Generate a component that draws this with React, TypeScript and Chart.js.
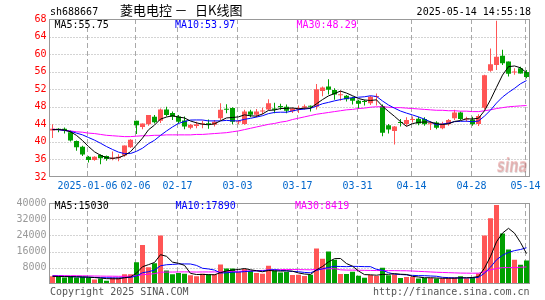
import { useEffect, useRef } from 'react';
import { Chart, registerables } from 'chart.js';

Chart.register(...registerables);

// ---------- data ----------
const DATES = [
  '2025-01-09','2025-01-10','2025-01-13','2025-01-14','2025-01-15','2025-01-16','2025-01-17','2025-01-20','2025-01-21','2025-01-22',
  '2025-01-23','2025-01-24','2025-01-27','2025-02-05','2025-02-06','2025-02-07','2025-02-10','2025-02-11','2025-02-12','2025-02-13',
  '2025-02-14','2025-02-17','2025-02-18','2025-02-19','2025-02-20','2025-02-21','2025-02-24','2025-02-25','2025-02-26','2025-02-27',
  '2025-02-28','2025-03-03','2025-03-04','2025-03-05','2025-03-06','2025-03-07','2025-03-10','2025-03-11','2025-03-12','2025-03-13',
  '2025-03-14','2025-03-17','2025-03-18','2025-03-19','2025-03-20','2025-03-21','2025-03-24','2025-03-25','2025-03-26','2025-03-27',
  '2025-03-28','2025-03-31','2025-04-01','2025-04-02','2025-04-03','2025-04-07','2025-04-08','2025-04-09','2025-04-10','2025-04-11',
  '2025-04-14','2025-04-15','2025-04-16','2025-04-17','2025-04-18','2025-04-21','2025-04-22','2025-04-23','2025-04-24','2025-04-25',
  '2025-04-28','2025-04-29','2025-04-30','2025-05-06','2025-05-07','2025-05-08','2025-05-09','2025-05-12','2025-05-13','2025-05-14',
];

const OPEN = [
  42.6,43.0,43.0,42.2,40.2,38.9,36.6,35.9,37.0,36.8,
  36.1,36.3,36.9,38.8,44.8,43.4,44.0,45.7,44.8,47.4,
  46.6,45.8,44.9,43.2,43.6,44.0,44.2,43.9,45.4,47.5,
  47.7,44.5,44.1,46.9,46.2,46.9,47.4,47.6,48.2,48.0,
  47.0,47.4,47.8,48.2,48.0,51.6,52.6,51.8,50.6,50.5,
  50.0,49.4,49.3,48.8,50.2,48.2,43.8,42.5,44.5,44.1,
  45.0,45.3,45.2,44.0,44.4,43.1,44.0,45.4,46.7,45.1,
  45.1,44.1,47.8,56.2,57.5,59.6,58.3,55.8,56.8,55.9,
];
const HIGH = [
  44.0,43.1,43.3,42.6,40.3,39.1,36.8,36.7,37.2,36.9,
  37.8,37.2,39.2,40.6,44.8,44.2,46.1,46.1,47.6,48.0,
  46.9,46.1,45.8,44.1,44.6,44.8,45.1,45.0,48.8,48.6,
  47.9,45.0,47.3,47.3,47.5,47.8,49.7,48.9,48.7,48.5,
  47.8,48.3,48.5,48.3,53.2,52.6,54.3,52.2,51.7,50.7,
  50.3,49.6,49.6,50.5,51.0,48.5,44.1,43.6,45.2,45.6,
  45.8,45.7,45.6,44.7,44.7,44.6,45.2,47.3,46.9,45.7,
  45.7,46.3,55.3,61.3,67.6,61.0,58.3,56.8,57.1,56.4,
];
const LOW = [
  40.9,42.2,41.9,40.1,38.0,36.8,35.3,35.7,34.9,35.7,
  35.8,35.6,36.6,38.6,41.8,42.9,43.7,44.2,44.3,45.8,
  45.0,44.2,42.9,42.9,43.1,43.1,43.0,43.5,45.0,46.5,
  44.0,44.0,43.9,45.6,45.6,46.3,47.2,46.5,47.3,46.5,
  46.6,46.6,47.3,46.9,47.4,50.4,50.8,49.6,49.4,49.2,
  48.5,47.5,48.3,48.4,48.3,41.3,41.9,39.4,43.5,43.6,
  44.4,43.8,43.7,42.7,42.9,42.9,43.7,45.0,45.0,44.6,
  43.7,43.6,47.4,56.0,56.4,57.5,54.9,55.3,55.6,54.5,
];
const CLOSE = [
  43.0,42.7,42.6,40.3,38.8,37.1,35.9,36.6,36.3,36.1,
  36.4,36.6,39.2,40.5,43.8,44.2,46.1,44.5,47.4,46.1,
  45.7,44.6,43.5,43.9,44.0,44.1,44.0,44.6,47.3,47.3,
  44.6,44.7,46.9,46.2,46.9,47.1,48.8,47.3,47.9,47.1,
  47.6,47.7,48.1,48.0,52.0,52.4,51.9,50.8,50.8,49.7,
  49.4,48.7,49.1,50.3,50.4,42.1,42.8,43.5,44.3,45.0,
  45.2,44.2,44.0,44.2,43.2,44.2,45.0,46.7,45.2,45.2,
  44.0,45.9,55.2,57.7,59.4,57.9,55.5,56.0,55.6,54.8,
];

const MA5 = [
  42.8,42.8,42.7,42.3,41.48,40.30,38.94,37.74,36.94,36.40,
  36.26,36.40,36.92,37.76,39.30,40.86,42.76,43.82,45.20,45.66,
  45.96,45.66,45.46,44.76,44.34,44.02,43.90,44.12,44.80,45.46,
  45.56,45.70,46.16,45.94,45.86,46.36,47.18,47.26,47.60,47.64,
  47.74,47.52,47.68,47.70,48.68,49.64,50.48,51.02,51.58,51.12,
  50.52,49.88,49.54,49.44,49.58,48.12,46.94,45.82,44.62,43.54,
  44.16,44.44,44.54,44.52,44.16,43.96,44.12,44.66,44.86,45.26,
  45.22,45.40,47.10,49.60,52.44,55.22,57.14,57.30,56.88,55.75,
];
const MA10 = [
  42.8,42.8,42.6,42.4,42.0,41.6,41.0,40.4,39.7,38.94,
  38.28,37.67,37.33,37.35,37.85,38.56,39.58,40.37,41.48,42.48,
  43.41,44.21,44.64,44.98,45.00,44.99,44.78,44.79,44.78,44.90,
  44.79,44.80,45.14,45.37,45.66,45.96,46.44,46.71,46.77,46.75,
  47.05,47.35,47.47,47.65,48.16,48.69,49.00,49.35,49.64,49.90,
  50.08,50.18,50.28,50.51,50.35,49.32,48.41,47.68,47.03,46.56,
  46.14,45.69,45.18,44.57,43.85,44.06,44.28,44.60,44.69,44.71,
  44.59,44.76,45.88,47.23,48.85,50.22,51.27,52.20,53.24,53.97,
];
const MA30 = [
  42.9,42.8,42.6,42.5,42.3,42.2,42.0,41.9,41.7,41.5,
  41.4,41.3,41.2,41.2,41.3,41.4,41.4,41.5,41.5,41.6,
  41.6,41.6,41.6,41.6,41.7,41.7,41.8,41.9,42.0,42.1,
  42.3,42.5,42.8,43.1,43.4,43.7,44.0,44.2,44.5,44.7,
  45.1,45.4,45.7,46.0,46.3,46.5,46.7,46.9,47.1,47.3,
  47.4,47.6,47.7,47.9,48.0,48.0,47.9,47.8,47.8,47.7,
  47.6,47.5,47.4,47.3,47.2,47.2,47.1,47.1,47.0,47.0,
  46.9,46.9,47.1,47.3,47.6,47.8,48.0,48.1,48.2,48.29,
];

const VOLUME = [
  3800,3800,3200,3800,3200,3500,3200,2200,2700,1600,
  3200,3200,4800,4800,10700,19200,8300,10200,24000,6700,
  4800,5400,5100,4300,3800,5100,4800,4800,9600,7700,
  7700,5900,7400,6400,5400,5100,9000,6700,5700,5900,
  4400,4600,4000,4600,17500,12500,16000,12000,5000,5000,
  6000,4100,3100,4500,4000,8000,4300,4800,3000,3400,
  3400,2700,3000,3000,2700,2700,2800,3200,3800,2800,
  3500,5200,24000,32500,39000,25000,17000,12000,9500,11650,
];
const VOL_MA5 = [
  3800,3700,3650,3600,3560,3500,3380,3180,2960,2640,
  2580,2580,3100,3520,5340,8540,9560,10640,14480,13680,
  10800,10220,9200,5260,4680,4740,4620,4560,5620,6400,
  6920,7140,7660,7020,6560,6040,6660,6520,6380,6480,
  6340,5460,4920,4700,7020,8640,10920,12520,12600,10100,
  8800,6420,4640,4540,4340,4740,4780,5120,4820,4700,
  3780,3460,3100,3100,2960,2820,2840,2880,3040,3060,
  3220,3700,7860,13600,20840,25140,27500,25100,20500,15030,
];
const VOL_MA10 = [
  3900,3850,3750,3650,3550,3450,3350,3250,3150,3100,
  3040,2980,3140,3240,3990,5560,6070,6870,9000,9510,
  9670,9890,9920,9870,9180,7770,7420,6880,5440,5540,
  5830,5880,6110,6320,6480,6480,6900,7090,6700,6520,
  6190,6060,5720,5540,6750,7490,8190,8720,8650,8560,
  8720,8670,8580,8570,7220,6770,5600,4880,4680,4520,
  4260,4120,4110,3960,3830,3300,3150,2990,3070,3010,
  3020,3270,5370,8320,11950,14180,15600,16480,17050,17890,
];
const VOL_MA30 = [
  4200,4200,4150,4100,4100,4050,4000,3950,3900,3850,
  3850,3800,3800,3850,4100,4600,4800,5100,5800,5900,
  5900,5950,6000,5950,5900,5950,5950,5950,6000,6050,
  6150,6250,6400,6500,6600,6700,6900,7000,7100,7190,
  7150,7100,7050,7000,7200,7400,7500,7600,7000,6870,
  6850,6800,6750,6700,6650,6650,6600,6600,6550,6530,
  6400,6250,6100,5950,5800,5700,5600,5500,5400,5360,
  5330,5350,6020,6950,7670,8080,8120,8120,8270,8419,
];

const PRICE_MIN = 32;
const PRICE_MAX = 68;
const PRICE_STEP = 4;
const VOL_MAX = 40000;
const VOL_STEP = 8000;

const X_TICK_DATES = ['2025-01-17','2025-02-06','2025-02-17','2025-03-03','2025-03-17','2025-03-31','2025-04-14','2025-04-28','2025-05-14'];
const X_TICK_LABELS = ['2025-01-06','02-06','02-17','03-03','03-17','03-31','04-14','04-28','05-14'];

const CODE = 'sh688667';
const STAMP = '2025-05-14 14:55:18';

// ---------- styles ----------
const RED = '#ff5555';
const GREEN = '#00a000';
const MONO = '"DejaVu Sans Mono", monospace';
const GRID = '#a8a8a8';
const FRAME = '#999999';

const isUp = CLOSE.map((c, i) => c >= OPEN[i]);
const candleColors = isUp.map((u) => (u ? RED : GREEN));

const sinaPlugin = {
  id: 'sinaFrame',
  beforeDatasetsDraw(chart: any) {
    const { ctx, chartArea: a, scales } = chart;
    const xs = scales.x;
    const ys = scales.y;
    ctx.save();
    ctx.lineWidth = 1;
    ctx.strokeStyle = GRID;
    ctx.setLineDash([1, 2]);
    ys.ticks.forEach((t: any) => {
      if (t.value <= ys.min || t.value >= ys.max) return;
      const py = Math.round(ys.getPixelForValue(t.value)) + 0.5;
      ctx.beginPath();
      ctx.moveTo(a.left, py);
      ctx.lineTo(a.right, py);
      ctx.stroke();
    });
    ctx.setLineDash([5, 3]);
    X_TICK_DATES.forEach((d) => {
      const px = Math.round(xs.getPixelForValue(DATES.indexOf(d)) - 1.5) + 0.5;
      ctx.beginPath();
      ctx.moveTo(px, a.top);
      ctx.lineTo(px, a.bottom);
      ctx.stroke();
    });
    ctx.restore();
  },
  afterDatasetsDraw(chart: any, _args: any, opts: any) {
    const { ctx, chartArea: a, scales } = chart;
    ctx.save();
    ctx.setLineDash([]);
    ctx.lineWidth = 1;
    ctx.strokeStyle = FRAME;
    const l = Math.floor(a.left) + 0.5;
    const t = Math.floor(a.top) + 0.5;
    const r = Math.floor(a.right) + 0.5;
    const b = Math.floor(a.bottom) - 0.5;
    ctx.strokeRect(l, t, r - l, b - t);
    if (opts && opts.dateLabels) {
      const xs = scales.x;
      ctx.font = '10px ' + MONO;
      ctx.fillStyle = '#0066cc';
      ctx.textAlign = 'center';
      ctx.textBaseline = 'middle';
      X_TICK_DATES.forEach((d, k) => {
        const px = Math.round(xs.getPixelForValue(DATES.indexOf(d)) - 1.5) + 0.5;
        ctx.fillText(X_TICK_LABELS[k], px, a.bottom + 9.5);
      });
    }
    ctx.restore();
  },
};

function lineDs(label: string, data: number[], color: string) {
  return {
    type: 'line' as const,
    label,
    data,
    borderColor: color,
    backgroundColor: color,
    borderWidth: 1,
    pointRadius: 0,
    tension: 0,
    order: 0,
  };
}

function yScale(min: number, max: number, step: number, color: string, hideZero: boolean) {
  return {
    type: 'linear' as const,
    position: 'left' as const,
    min,
    max,
    ticks: {
      stepSize: step,
      autoSkip: false,
      color,
      padding: 3,
      font: { family: MONO, size: 10, lineHeight: 1 },
      callback: (v: any) => (hideZero && v === 0 ? '' : String(v)),
    },
    grid: { display: false, drawTicks: false },
    border: { display: false },
    afterFit: (s: any) => {
      s.width = 49.5;
    },
  };
}

export default function App() {
  const priceRef = useRef<HTMLCanvasElement>(null);
  const volRef = useRef<HTMLCanvasElement>(null);

  useEffect(() => {
    const price = new Chart(priceRef.current as HTMLCanvasElement, {
      type: 'bar',
      data: {
        labels: DATES,
        datasets: [
          lineDs('MA5', MA5, '#000000'),
          lineDs('MA10', MA10, '#0000ff'),
          lineDs('MA30', MA30, '#ff00ff'),
          {
            type: 'bar',
            label: 'wick',
            data: LOW.map((l, i) => [l, HIGH[i]]),
            backgroundColor: candleColors,
            barThickness: 1,
            grouped: false,
            inflateAmount: 0,
            minBarLength: 1,
            order: 2,
          } as any,
          {
            type: 'bar',
            label: 'body',
            data: OPEN.map((o, i) => [o, CLOSE[i]]),
            backgroundColor: candleColors,
            barThickness: 5,
            grouped: false,
            inflateAmount: 0,
            minBarLength: 1,
            order: 1,
          } as any,
        ],
      },
      options: {
        responsive: false,
        animation: false,
        devicePixelRatio: 1,
        events: [],
        layout: { padding: { top: 19, bottom: 18, right: 15.5, left: 0 } },
        plugins: { legend: { display: false }, tooltip: { enabled: false }, sinaFrame: { dateLabels: true } } as any,
        scales: {
          x: { type: 'category', offset: true, display: false, grid: { display: false } },
          y: yScale(PRICE_MIN, PRICE_MAX, PRICE_STEP, '#ff0000', false),
        },
      },
      plugins: [sinaPlugin],
    });

    const volume = new Chart(volRef.current as HTMLCanvasElement, {
      type: 'bar',
      data: {
        labels: DATES,
        datasets: [
          lineDs('MA5', VOL_MA5, '#000000'),
          lineDs('MA10', VOL_MA10, '#0000ff'),
          lineDs('MA30', VOL_MA30, '#ff00ff'),
          {
            type: 'bar',
            label: 'volume',
            data: VOLUME,
            backgroundColor: candleColors,
            barThickness: 5,
            grouped: false,
            inflateAmount: 0,
            order: 1,
          } as any,
        ],
      },
      options: {
        responsive: false,
        animation: false,
        devicePixelRatio: 1,
        events: [],
        layout: { padding: { top: 6, bottom: 16, right: 15.5, left: 0 } },
        plugins: { legend: { display: false }, tooltip: { enabled: false }, sinaFrame: { dateLabels: false } } as any,
        scales: {
          x: { type: 'category', offset: true, display: false, grid: { display: false } },
          y: yScale(0, VOL_MAX, VOL_STEP, '#999999', true),
        },
      },
      plugins: [sinaPlugin],
    });

    return () => {
      price.destroy();
      volume.destroy();
    };
  }, []);

  const mono = (left: number, top: number, color: string, text: string, right?: number) => (
    <span
      style={{
        position: 'absolute',
        left: right === undefined ? left : undefined,
        right: right,
        top,
        color,
        fontFamily: MONO,
        fontSize: 10,
        lineHeight: '10px',
        whiteSpace: 'pre',
      }}
    >
      {text}
    </span>
  );
  const cjk = (left: number, text: string) => (
    <span
      style={{
        position: 'absolute',
        left,
        top: 2.6,
        color: '#000',
        fontFamily: '"Noto Sans CJK SC", sans-serif',
        fontSize: 13,
        lineHeight: '13px',
        whiteSpace: 'pre',
      }}
    >
      {text}
    </span>
  );
  const last = DATES.length - 1;

  return (
    <div
      style={{
        position: 'absolute',
        left: 0,
        top: 0,
        width: 545,
        height: 300,
        background: '#ffffff',
        overflow: 'hidden',
      }}
    >
      <canvas ref={priceRef} width={545} height={195} style={{ position: 'absolute', left: 0, top: 0, width: 545, height: 195 }} />
      <canvas ref={volRef} width={545} height={105} style={{ position: 'absolute', left: 0, top: 195, width: 545, height: 105 }} />

      {mono(50, 7, '#000', CODE)}
      {cjk(120, '菱电电控')}
      {cjk(174.5, '－')}
      {cjk(195, '日K线图')}
      {mono(0, 7, '#000', STAMP, 14)}

      {mono(54.5, 19.5, '#000', 'MA5:' + MA5[last].toFixed(2))}
      {mono(175, 19.5, '#0000ff', 'MA10:' + MA10[last].toFixed(2))}
      {mono(296.5, 19.5, '#ff00ff', 'MA30:' + MA30[last].toFixed(2))}

      {mono(54.5, 200.8, '#000', 'MA5:' + VOL_MA5[last])}
      {mono(175.5, 200.8, '#0000ff', 'MA10:' + VOL_MA10[last])}
      {mono(295, 200.8, '#ff00ff', 'MA30:' + VOL_MA30[last])}

      {mono(50, 287, '#555', 'Copyright 2025 SINA.COM')}
      {mono(0, 287, '#555', 'http://finance.sina.com.cn', 15.5)}

      <span
        style={{
          position: 'absolute',
          left: 497,
          top: 155,
          color: 'rgba(225,110,110,0.4)',
          textShadow: '1px 1px 0 rgba(150,150,150,0.3)',
          fontFamily: '"DejaVu Sans", sans-serif',
          fontStyle: 'italic',
          fontWeight: 'bold',
          fontSize: 20,
          lineHeight: '20px',
          transform: 'scaleX(0.65)',
          transformOrigin: '0 0',
          whiteSpace: 'pre',
        }}
      >
        sina
      </span>
    </div>
  );
}
